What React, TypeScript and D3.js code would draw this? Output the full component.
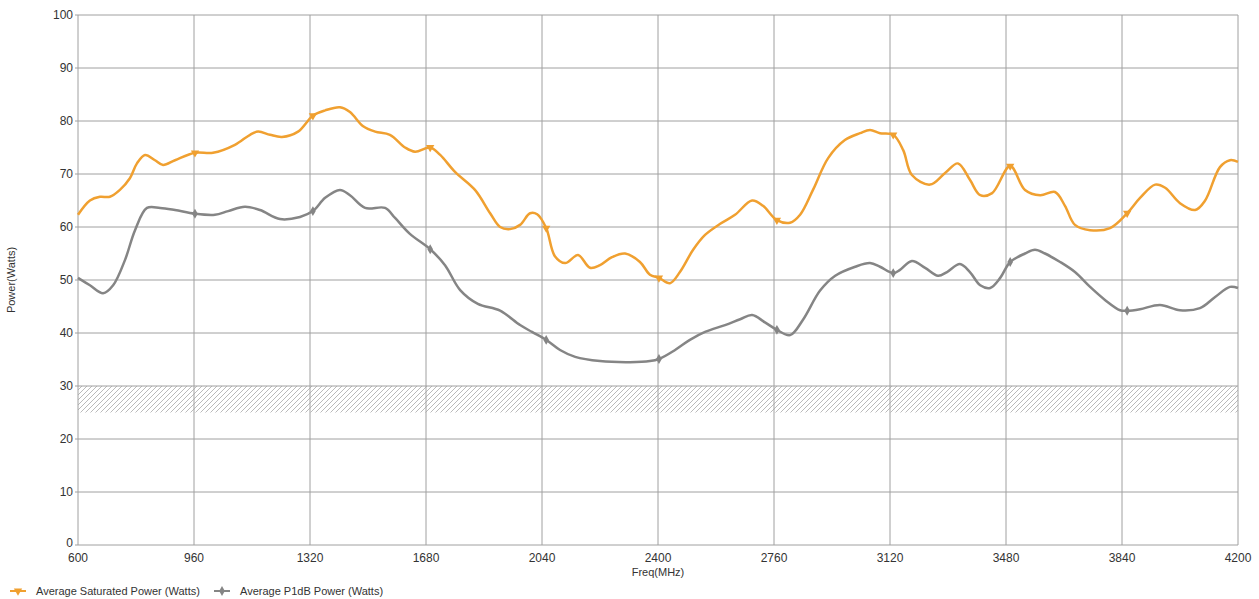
import React, { useEffect, useRef } from 'react';
import * as d3 from 'd3';

const xTicks = [600, 960, 1320, 1680, 2040, 2400, 2760, 3120, 3480, 3840, 4200];
const yTicks = [0, 10, 20, 30, 40, 50, 60, 70, 80, 90, 100];

// Average Saturated Power (Watts)
const satFreq = [600, 637, 668, 699, 730, 761, 783, 808, 839, 864, 901, 963, 1019, 1087, 1134, 1159, 1196, 1233, 1283, 1329, 1367, 1413, 1444, 1485, 1522, 1568, 1615, 1646, 1693, 1724, 1770, 1832, 1879, 1910, 1941, 1972, 2003, 2025, 2053, 2080, 2112, 2152, 2189, 2220, 2257, 2298, 2344, 2375, 2403, 2437, 2468, 2509, 2546, 2593, 2639, 2692, 2726, 2769, 2810, 2841, 2881, 2928, 2980, 3027, 3058, 3089, 3130, 3161, 3188, 3244, 3291, 3331, 3368, 3400, 3437, 3493, 3539, 3586, 3632, 3663, 3694, 3741, 3803, 3856, 3896, 3943, 3974, 4020, 4067, 4098, 4144, 4175, 4200];
const satPower = [62.3, 65, 65.7, 65.7, 67, 69.2, 72, 73.6, 72.6, 71.7, 72.6, 74, 74, 75.5, 77.4, 78, 77.4, 77, 78, 81, 82, 82.6, 81.7, 79, 78, 77.4, 75, 74.2, 75, 73.6, 70.4, 67, 62.6, 60, 59.6, 60.4, 62.6, 62.4, 59.8, 54.5, 53.2, 54.7, 52.3, 52.8, 54.3, 55, 53.4, 51, 50.4, 49.4, 51.5, 55.7, 58.5, 60.6, 62.3, 65, 64, 61.3, 60.8, 62.3, 67, 73, 76.4, 77.7, 78.3, 77.7, 77.4, 74.5, 69.8, 68, 70.2, 72, 68.9, 66, 66.4, 71.5, 67, 66, 66.6, 64, 60.4, 59.4, 59.8, 62.6, 65.5, 68, 67.4, 64.5, 63.2, 65, 71.3, 72.6, 72.3];

// Average P1dB Power (Watts)
const p1Freq = [600, 637, 678, 709, 746, 777, 814, 855, 901, 963, 1025, 1066, 1118, 1165, 1227, 1289, 1329, 1367, 1413, 1444, 1491, 1553, 1584, 1630, 1693, 1739, 1786, 1841, 1910, 1972, 2009, 2053, 2096, 2143, 2220, 2313, 2375, 2403, 2453, 2499, 2546, 2608, 2655, 2692, 2732, 2769, 2810, 2850, 2903, 2950, 3012, 3058, 3089, 3130, 3151, 3188, 3229, 3269, 3297, 3337, 3368, 3400, 3431, 3462, 3493, 3539, 3570, 3601, 3648, 3694, 3741, 3788, 3834, 3856, 3896, 3958, 4020, 4082, 4129, 4175, 4200];
const p1Power = [50.4, 49, 47.5, 49, 53.8, 59.4, 63.6, 63.6, 63.2, 62.5, 62.3, 63, 63.8, 63.2, 61.5, 61.9, 63, 65.5, 67, 66, 63.6, 63.6, 61.7, 58.7, 55.8, 52.8, 48.1, 45.5, 44.2, 41.5, 40.2, 38.7, 36.8, 35.5, 34.7, 34.5, 34.7, 35.1, 36.8, 38.7, 40.2, 41.5, 42.6, 43.4, 42, 40.6, 39.6, 42.5, 48, 50.8, 52.5, 53.2, 52.5, 51.3, 51.9, 53.6, 52.3, 50.8, 51.5, 53, 51.5, 49, 48.5, 50.4, 53.4, 55, 55.7, 55, 53.4, 51.5, 48.7, 46.2, 44.3, 44.2, 44.5, 45.3, 44.3, 44.7, 46.8, 48.7, 48.5];

const markerFreq = [963, 1329, 1693, 2053, 2403, 2769, 3130, 3493, 3856];

// hatched limit band
const bandLow = 25;
const bandHigh = 30;

const satColor = '#f0a030';
const p1Color = '#858585';

export default function App() {
  const ref = useRef<SVGSVGElement>(null);

  useEffect(() => {
    if (!ref.current) return;
    const svg = d3.select(ref.current);
    svg.selectAll('*').remove();

    const width = 1259;
    const height = 599;
    const margin = { top: 15, right: 21, bottom: 54, left: 78 };
    const w = width - margin.left - margin.right;
    const h = height - margin.top - margin.bottom;
    const font = 'Liberation Sans, Arial, sans-serif';

    const defs = svg.append('defs');
    const pat = defs.append('pattern')
      .attr('id', 'hatch')
      .attr('patternUnits', 'userSpaceOnUse')
      .attr('width', 5)
      .attr('height', 5);
    pat.append('path')
      .attr('d', 'M-1,1 l2,-2 M0,5 l5,-5 M4,6 l2,-2')
      .attr('stroke', '#a8a8a8')
      .attr('stroke-width', 0.8);

    const g = svg.append('g').attr('transform', `translate(${margin.left},${margin.top})`);

    const x = d3.scaleLinear().domain([600, 4200]).range([0, w]);
    const y = d3.scaleLinear().domain([0, 100]).range([h, 0]);

    // hatched band
    g.append('rect')
      .attr('x', 0)
      .attr('y', y(bandHigh))
      .attr('width', w)
      .attr('height', y(bandLow) - y(bandHigh))
      .attr('fill', 'url(#hatch)');

    // grid
    g.append('g')
      .selectAll('line')
      .data(yTicks)
      .enter()
      .append('line')
      .attr('x1', 0).attr('x2', w)
      .attr('y1', d => y(d)).attr('y2', d => y(d))
      .attr('stroke', '#a0a0a0')
      .attr('stroke-width', 1);
    g.append('g')
      .selectAll('line')
      .data(xTicks)
      .enter()
      .append('line')
      .attr('x1', d => x(d)).attr('x2', d => x(d))
      .attr('y1', 0).attr('y2', h)
      .attr('stroke', '#a0a0a0')
      .attr('stroke-width', 1);

    // tick marks + labels
    g.append('g')
      .selectAll('line')
      .data(yTicks)
      .enter()
      .append('line')
      .attr('x1', -3).attr('x2', 0)
      .attr('y1', d => y(d)).attr('y2', d => y(d))
      .attr('stroke', '#a0a0a0');
    g.append('g')
      .selectAll('text')
      .data(yTicks)
      .enter()
      .append('text')
      .attr('x', -5)
      .attr('y', d => y(d))
      .attr('dy', d => (d === 0 ? '0.2em' : '0.35em'))
      .attr('text-anchor', 'end')
      .style('font-family', font)
      .style('font-size', '12px')
      .attr('fill', '#333')
      .text(d => d);
    g.append('g')
      .selectAll('text')
      .data(xTicks)
      .enter()
      .append('text')
      .attr('x', d => x(d))
      .attr('y', h + 17)
      .attr('text-anchor', 'middle')
      .style('font-family', font)
      .style('font-size', '12px')
      .attr('fill', '#333')
      .text(d => d);

    // axis titles
    g.append('text')
      .attr('x', w / 2)
      .attr('y', h + 31)
      .attr('text-anchor', 'middle')
      .style('font-family', font)
      .style('font-size', '11px')
      .attr('fill', '#333')
      .text('Freq(MHz)');
    g.append('text')
      .attr('transform', `translate(${-63},${h / 2}) rotate(-90)`)
      .attr('text-anchor', 'middle')
      .style('font-family', font)
      .style('font-size', '11px')
      .attr('fill', '#333')
      .text('Power(Watts)');

    const line = d3.line<[number, number]>()
      .x(d => x(d[0]))
      .y(d => y(d[1]))
      .curve(d3.curveCatmullRom.alpha(0.5));

    const satData = satFreq.map((f, i) => [f, satPower[i]] as [number, number]);
    const p1Data = p1Freq.map((f, i) => [f, p1Power[i]] as [number, number]);

    g.append('path')
      .datum(p1Data)
      .attr('d', line)
      .attr('fill', 'none')
      .attr('stroke', p1Color)
      .attr('stroke-width', 2.5);
    g.append('path')
      .datum(satData)
      .attr('d', line)
      .attr('fill', 'none')
      .attr('stroke', satColor)
      .attr('stroke-width', 2.5);

    const tri = d3.symbol().type(d3.symbolTriangle).size(30);
    const dia = d3.symbol().type(d3.symbolDiamond).size(28);

    g.append('g')
      .selectAll('path')
      .data(p1Data.filter(d => markerFreq.includes(d[0])))
      .enter()
      .append('path')
      .attr('d', dia)
      .attr('transform', d => `translate(${x(d[0])},${y(d[1])})`)
      .attr('fill', p1Color);
    g.append('g')
      .selectAll('path')
      .data(satData.filter(d => markerFreq.includes(d[0])))
      .enter()
      .append('path')
      .attr('d', tri)
      .attr('transform', d => `translate(${x(d[0])},${y(d[1])}) rotate(180)`)
      .attr('fill', satColor);

    // legend
    const legend = svg.append('g').attr('transform', `translate(0, ${height - 8})`);
    const items = [
      { label: 'Average Saturated Power (Watts)', color: satColor, sym: tri, rot: 180, x: 18 },
      { label: 'Average P1dB Power (Watts)', color: p1Color, sym: dia, rot: 0, x: 222 },
    ];
    items.forEach(it => {
      legend.append('line')
        .attr('x1', it.x - 8).attr('x2', it.x + 8)
        .attr('y1', 0).attr('y2', 0)
        .attr('stroke', it.color)
        .attr('stroke-width', 2);
      legend.append('path')
        .attr('d', it.sym)
        .attr('transform', `translate(${it.x},0) rotate(${it.rot})`)
        .attr('fill', it.color);
      legend.append('text')
        .attr('x', it.x + 18)
        .attr('y', 0)
        .attr('dy', '0.35em')
        .style('font-family', font)
        .style('font-size', '11px')
        .attr('fill', '#333')
        .text(it.label);
    });
  }, []);

  return (
    <svg
      ref={ref}
      width={1259}
      height={599}
      style={{ position: 'absolute', left: 0, top: 0, background: '#fff' }}
    />
  );
}
